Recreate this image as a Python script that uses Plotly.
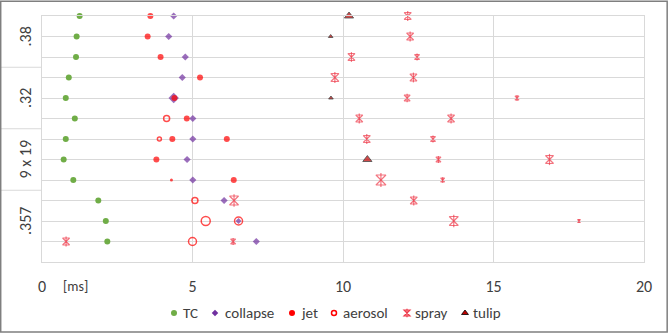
import plotly.graph_objects as go

# ---- data (x in ms, row index 1..12 from bottom) ----
group_labels = [".38", ".32", "9 x 19", ".357"]
group_centers = [11, 8, 5, 2]
x_ticks = [0, 5, 10, 15, 20]
series_names = ["TC", "collapse", "jet", "aerosol", "spray", "tulip"]

tc_ms = [1.25, 1.15, 1.13, 0.89, 0.79, 1.09, 0.79, 0.72, 1.04, 1.87, 2.12, 2.17]
tc_row = [12, 11, 10, 9, 8, 7, 6, 5, 4, 3, 2, 1]

collapse_ms = [4.375, 4.21, 4.76, 4.66, 4.375, 5.01, 5.01, 4.82, 5.01, 6.05, 6.53, 7.12]
collapse_row = [12, 11, 10, 9, 8, 7, 6, 5, 4, 3, 2, 1]

jet_ms = [3.60, 3.51, 3.94, 5.25, 4.40, 4.81, 4.33, 6.14, 3.80, 4.30, 6.37]
jet_row = [12, 11, 10, 9, 8, 7, 6, 6, 5, 4, 4]

aerosol_ms = [4.14, 3.90, 5.08, 5.44, 6.53, 5.00]
aerosol_row = [7, 6, 3, 2, 2, 1]

spray_ms = [12.15, 12.23, 10.28, 12.46, 9.73, 12.34, 12.13, 15.78, 10.54, 13.59,
            10.79, 12.99, 13.17, 16.86, 11.26, 13.31, 6.38, 12.35, 13.68,
            17.84, 0.80, 6.35]
spray_row = [12, 11, 10, 10, 9, 9, 8, 8, 7, 7,
             6, 6, 5, 5, 4, 4, 3, 3, 2,
             2, 1, 1]

tulip_ms = [10.20, 9.59, 9.60, 10.81]
tulip_row = [12, 11, 8, 5]

# ---- styles ----
collapse_size = [5.5, 5.5, 5.5, 5.5, 8, 5.5, 5.5, 5.5, 5.5, 5.5, 4.5, 5.5]
jet_size = [6, 6, 6, 6, 6, 6, 6, 6, 6, 3, 6]
aerosol_size = [6, 4, 6, 9, 8, 8]
spray_size = [7, 7, 7, 5, 8, 7, 6, 4, 7, 7,
              7, 5, 5, 8, 10, 4, 9, 7, 9,
              3, 7, 5]
tulip_size = [8, 4, 4, 8]

FONT = "Calibri, Carlito, 'Liberation Sans Narrow', 'Open Sans', sans-serif"
SPRAY_COLOR = "#EE3A4A"
TXT = "#404040"

markers = {
    "TC": dict(symbol="circle", color="#70AD47", line=dict(width=0)),
    "collapse": dict(symbol="diamond", color="#7030A0", line=dict(width=0)),
    "jet": dict(symbol="circle", color="#FF0000", line=dict(width=0)),
    "aerosol": dict(symbol="circle-open", color="#FF0000", line=dict(width=1.5, color="#FF0000")),
    "spray": dict(symbol="hourglass-open", color=SPRAY_COLOR, line=dict(width=1.2, color=SPRAY_COLOR)),
    "spray2": dict(symbol="line-ns-open", color=SPRAY_COLOR, line=dict(width=1.2, color=SPRAY_COLOR)),
    "tulip": dict(symbol="triangle-up", color="#C00000", line=dict(width=0.8, color="#000000")),
}

fig = go.Figure()
fig.add_trace(go.Scatter(x=tc_ms, y=tc_row, mode="markers", name="TC", showlegend=False,
                         cliponaxis=False, marker=dict(markers["TC"], size=6)))
fig.add_trace(go.Scatter(x=collapse_ms, y=collapse_row, mode="markers", name="collapse", showlegend=False,
                         cliponaxis=False, marker=dict(markers["collapse"], size=collapse_size)))
fig.add_trace(go.Scatter(x=jet_ms, y=jet_row, mode="markers", name="jet", showlegend=False,
                         cliponaxis=False, marker=dict(markers["jet"], size=jet_size)))
fig.add_trace(go.Scatter(x=aerosol_ms, y=aerosol_row, mode="markers", name="aerosol", showlegend=False,
                         cliponaxis=False, marker=dict(markers["aerosol"], size=aerosol_size)))
fig.add_trace(go.Scatter(x=spray_ms, y=spray_row, mode="markers", name="spray", showlegend=False,
                         cliponaxis=False, marker=dict(markers["spray"], size=spray_size)))
fig.add_trace(go.Scatter(x=spray_ms, y=spray_row, mode="markers", name="spray", showlegend=False,
                         cliponaxis=False, marker=dict(markers["spray2"], size=spray_size)))
fig.add_trace(go.Scatter(x=tulip_ms, y=tulip_row, mode="markers", name="tulip", showlegend=False,
                         cliponaxis=False, marker=dict(markers["tulip"], size=tulip_size)))

# legend: symbol-only legend entries + text labels placed beside them
legend_symbol_px = [174, 215, 292, 334, 407, 465]
legend_text_px = [181, 223, 299, 341, 413, 471]
legend_symbol_size = [6, 5, 6, 5, 6, 6]
legend_keys = ["TC", "collapse", "jet", "aerosol", "spray", "tulip"]
LEG_Y = 1 - 313 / 334
legend_layout = {}
for i, (key, px, sz) in enumerate(zip(legend_keys, legend_symbol_px, legend_symbol_size)):
    lname = "legend" if i == 0 else f"legend{i + 1}"
    legend_layout[lname] = dict(orientation="h", xref="container", yref="container", xanchor="left",
                                x=(px - 20) / 669, y=LEG_Y, yanchor="middle",
                                bgcolor="rgba(0,0,0,0)", borderwidth=0, itemwidth=30,
                                font=dict(family=FONT, size=1, color="rgba(0,0,0,0)"))
    fig.add_trace(go.Scatter(x=[None], y=[None], mode="markers", name="", legend=lname,
                             showlegend=True, hoverinfo="skip", marker=dict(markers[key], size=sz)))
    if key == "spray":
        legend_layout["legend7"] = dict(legend_layout[lname])
        fig.add_trace(go.Scatter(x=[None], y=[None], mode="markers", name="", legend="legend7",
                                 showlegend=True, hoverinfo="skip", marker=dict(markers["spray2"], size=sz)))

for name, px in zip(series_names, legend_text_px):
    fig.add_annotation(x=(px - 42) / 602, xref="paper", xanchor="left",
                       y=(262 - 313) / 246, yref="paper", yanchor="middle", text=name,
                       showarrow=False, font=dict(family=FONT, size=15, color=TXT))

# group labels in left margin
for lab, yc in zip(group_labels, group_centers):
    fig.add_annotation(x=(25 - 42) / 602, xref="paper", xanchor="center", y=yc, yref="y",
                       yanchor="middle", text=lab, textangle=-90,
                       showarrow=False, font=dict(family=FONT, size=16, color=TXT))

# group separators
for ys in [9.5, 6.5, 3.5]:
    fig.add_shape(type="line", xref="paper", yref="y", x0=-0.07, x1=0, y0=ys, y1=ys,
                  line=dict(color="#D9D9D9", width=1))

# unit label
fig.add_annotation(x=1.12, xref="x", y=-0.10, yref="paper", yanchor="middle", text="[ms]",
                   showarrow=False, font=dict(family=FONT, size=14, color=TXT))

# outer frame
fig.add_shape(type="rect", xref="paper", yref="paper", x0=-0.0686, x1=1.0385, y0=-0.2847, y1=1.0596,
              line=dict(color="#7F7F7F", width=1.5))

fig.update_layout(
    width=669, height=334,
    margin=dict(l=42, r=25, t=16, b=72, autoexpand=False),
    paper_bgcolor="white", plot_bgcolor="white",
    font=dict(family=FONT, color=TXT),
    showlegend=True,
    **legend_layout,
)
fig.update_xaxes(range=[0, 20], tickvals=x_ticks, ticktext=[str(t) for t in x_ticks],
                 showgrid=True, gridcolor="#D9D9D9", gridwidth=1, zeroline=False,
                 showline=True, linecolor="#D9D9D9", mirror=True,
                 ticklabelstandoff=10, tickfont=dict(family=FONT, size=16, color=TXT))
fig.update_yaxes(range=[0, 12], tick0=0, dtick=1, showticklabels=False,
                 showgrid=True, gridcolor="#D9D9D9", gridwidth=1, zeroline=False,
                 showline=True, linecolor="#D9D9D9", mirror=True)

fig.write_html("out.html", config={"displayModeBar": False},
               post_script="document.body.style.margin='0';")
